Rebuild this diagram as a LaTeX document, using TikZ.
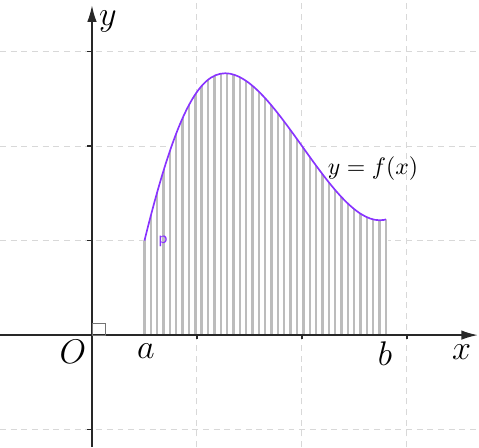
\documentclass[tikz,border=0pt]{standalone}
\usepackage{tikz}
\usetikzlibrary{arrows.meta}
\usepackage{xcolor}
\definecolor{curvecol}{RGB}{136,51,255}
\definecolor{gridcol}{RGB}{216,216,216}
\definecolor{hatchcol}{RGB}{188,188,188}
\definecolor{axiscol}{RGB}{40,40,40}
\tikzset{
  gridline/.style={draw=gridcol,dash pattern=on 2.5pt off 2pt,line width=.4pt},
  axisline/.style={draw=axiscol,line width=.7pt,-{Latex[length=7pt,width=4pt]}},
  tickmark/.style={draw=axiscol,line width=.5pt},
  hatchline/.style={draw=hatchcol,line width=1pt},
  curveline/.style={draw=curvecol,line width=.7pt},
  rightmark/.style={draw=black!55,line width=.4pt},
  axlabel/.style={font=\Large,inner sep=0pt},
}

\begin{document}
\begin{tikzpicture}[x=1.554cm,y=1.399cm]
  \useasboundingbox (-0.876,-1.185) rectangle (3.686,3.545);
  % grid
  \foreach \gx in {1,2,3} \draw[gridline] (\gx,-1.185) -- (\gx,3.545);
  \foreach \gy in {-1,1,2,3} \draw[gridline] (-0.876,\gy) -- (3.686,\gy);
  % points of the curve
  \coordinate (fa) at (0.5,1.0);
  \coordinate (ftop) at (1.27,2.77);
  \coordinate (fmin) at (2.74,1.215);
  \coordinate (fb) at (2.8,1.224);
  % area under the curve
  \begin{scope}
    \clip (0.48,0) -- (0.48,1.0) -- (fa) .. controls (0.8,2.35) and (1.02,2.77) .. (ftop)
      .. controls (1.74,2.77) and (2.27,1.215) .. (fmin)
      .. controls (2.77,1.215) and (2.79,1.22) .. (fb) -- (2.82,1.224) -- (2.82,0) -- cycle;
    \fill[white] (0.4,0) rectangle (2.9,3);
    \foreach \i in {0,...,38} \draw[hatchline] ({0.5+\i*2.3/38},0) -- ++(0,3);
  \end{scope}
  \draw[curveline] (fa) .. controls (0.8,2.35) and (1.02,2.77) .. (ftop)
    .. controls (1.74,2.77) and (2.27,1.215) .. (fmin)
    .. controls (2.77,1.215) and (2.79,1.22) .. (fb);
  % axes
  \draw[axisline] (-0.876,0) -- (3.676,0);
  \draw[axisline] (0,-1.185) -- (0,3.49);
  \foreach \gx in {1,2,3} \draw[tickmark] (\gx,0) -- (\gx,-0.045);
  \foreach \gy in {-1,1,2,3} \draw[tickmark] (0,\gy) -- (-0.048,\gy);
  \draw[rightmark] (0,0) rectangle (0.124,0.127);
  % labels
  \node[axlabel] (xlab) at (3.52,-0.175) {$x$};
  \node[axlabel] (ylab) at (0.152,3.32) {$y$};
  \node[axlabel] (olab) at (-0.181,-0.18) {$O$};
  \node[axlabel] (alab) at (0.514,-0.17) {$a$};
  \node[axlabel] (blab) at (2.79,-0.2) {$b$};
  \node (flab) at (2.676,1.767) {$y=f(x)$};
  \node[text=curvecol,font=\sffamily\scriptsize] (plab) at (0.676,0.995) {p};
\end{tikzpicture}
\end{document}
